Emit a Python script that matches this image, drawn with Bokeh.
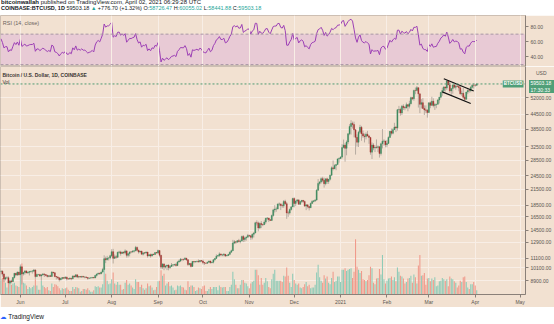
import numpy as np
import pandas as pd
from bokeh.plotting import figure
from bokeh.models import (Range1d, LinearScale, FixedTicker, NumeralTickFormatter, Span,
                          BoxAnnotation, Label, Div)
from bokeh.layouts import column
from bokeh.embed import file_html
from bokeh.resources import INLINE

# ---------------- data (daily, COINBASE BTCUSD) ----------------
start_date = "2020-05-19"
origin_date = "2020-06-01"

warmup_close = [6640, 6800, 6740, 6870, 6780, 7340, 7200, 7370, 7290, 6870,
                6890, 6910, 6860, 6880, 6640, 7110, 7040, 7250, 7130, 6850,
                6860, 7130, 7490, 7510, 7540, 7700, 7790, 7760, 8780, 8620,
                8860, 8980, 8900, 8880, 9030, 9150, 9990, 9810, 9540, 8730,
                8570, 8820, 9310, 9790, 9320, 9380, 9680, 9730]

close = [
    # May 19-31
    9780, 9510, 9060, 9170, 9180, 8720, 8900, 8840, 9200, 9580, 9430, 9700, 9450,
    # Jun
    10200, 9520, 9660, 9800, 9620, 9670, 9750, 9780, 9780, 9890,
    9280, 9470, 9480, 9340, 9430, 9520, 9460, 9380, 9300, 9360,
    9290, 9690, 9630, 9290, 9250, 9170, 9010, 9120, 9190, 9140,
    # Jul
    9230, 9090, 9060, 9140, 9080, 9340, 9250, 9440, 9240, 9290,
    9240, 9300, 9240, 9250, 9190, 9130, 9150, 9170, 9210, 9160,
    9390, 9520, 9580, 9540, 9700, 9930, 11030, 10910, 11100, 11110, 11350,
    # Aug
    11800, 11070, 11230, 11190, 11740, 11770, 11600, 11760, 11680, 11890,
    11390, 11580, 11780, 11770, 11860, 11910, 12300, 11970, 11760, 11870,
    11520, 11680, 11650, 11760, 11330, 11460, 11320, 11530, 11480, 11710, 11660,
    # Sep
    11930, 11390, 10170, 10470, 10170, 10280, 10370, 10130, 10240, 10370,
    10400, 10440, 10330, 10680, 10790, 10960, 10950, 10940, 11090, 10920,
    10420, 10540, 10240, 10740, 10690, 10730, 10770, 10700, 10840, 10780,
    # Oct
    10620, 10570, 10550, 10670, 10790, 10600, 10670, 10920, 11060, 11300,
    11380, 11550, 11430, 11430, 11510, 11330, 11370, 11510, 11750, 11920,
    12820, 12990, 12940, 13130, 13030, 13070, 13650, 13280, 13460, 13560, 13800,
    # Nov
    13760, 13550, 13960, 14130, 15590, 15580, 14840, 15480, 15330, 15310,
    15700, 16290, 16330, 16070, 15960, 16720, 17660, 17800, 17820, 18680,
    18710, 18420, 18370, 19160, 18740, 17150, 17140, 17720, 18180, 19700,
    # Dec
    18790, 19230, 19450, 18650, 19150, 19360, 19170, 18320, 18540, 18250,
    18030, 18800, 19170, 19270, 19440, 21350, 22800, 23140, 23870, 23480,
    22740, 23820, 23240, 23730, 24690, 26490, 26280, 27080, 27370, 28880, 28990,
    # Jan 2021
    29400, 32200, 33000, 31990, 33990, 36820, 39470, 40670, 40240, 38240,
    35550, 33920, 37340, 39150, 36830, 36020, 35820, 36630, 36020, 35540,
    30830, 33010, 32090, 32290, 32260, 32500, 30430, 33420, 34270, 34320, 33110,
    # Feb
    33520, 35510, 37680, 36980, 38300, 39240, 38900, 46400, 46500, 45000,
    47980, 47400, 47220, 48730, 47950, 49170, 52150, 51600, 55910, 55890,
    57410, 54090, 48900, 49680, 47000, 46340, 46190, 45140,
    # Mar
    49600, 48440, 50350, 48380, 48760, 48880, 50970, 52390, 54890, 55860,
    57800, 57200, 61190, 58970, 55640, 56900, 58930, 57640, 58250, 58100,
    57360, 54090, 54340, 52300, 51300, 55050, 55840, 55780, 57630, 58780, 58740,
    # Apr
    58726.47, 59503.18]

high = [
    9890, 9840, 9570, 9270, 9310, 9300, 8980, 9010, 9230, 9610, 9610, 9740, 9700,
    10430, 10230, 9690, 9880, 9850, 9740, 9800, 9800, 9880, 9990,
    9950, 9560, 9500, 9490, 9520, 9590, 9560, 9490, 9450, 9390,
    9440, 9780, 9700, 9670, 9330, 9300, 9200, 9180, 9240, 9200,
    9300, 9270, 9130, 9190, 9140, 9370, 9360, 9470, 9450, 9310,
    9300, 9340, 9340, 9280, 9280, 9220, 9190, 9200, 9240, 9220,
    9420, 9540, 9640, 9640, 9730, 10110, 11400, 11250, 11340, 11170, 11450,
    12090, 12130, 11480, 11420, 11790, 11910, 11910, 11800, 11820, 12070,
    11940, 11630, 11800, 11860, 11970, 11940, 12480, 12400, 12030, 11900,
    11890, 11690, 11720, 11820, 11770, 11540, 11590, 11550, 11560, 11720, 11770,
    12050, 11960, 11460, 10560, 10570, 10350, 10400, 10430, 10360, 10580,
    10430, 10480, 10570, 10790, 10930, 11100, 11040, 11040, 11180, 11090,
    10990, 10580, 10560, 10780, 10760, 10760, 10800, 10950, 10860, 10850,
    10930, 10660, 10600, 10700, 10800, 10800, 10680, 10950, 11110, 11500,
    11430, 11730, 11560, 11550, 11640, 11540, 11400, 11530, 11820, 12030,
    13230, 13200, 13030, 13160, 13350, 13250, 13780, 13860, 13640, 13690, 14000,
    13900, 13830, 14060, 14250, 15750, 15970, 15780, 15660, 15860, 15460,
    15970, 16350, 16480, 16330, 16140, 16880, 17850, 18480, 18140, 18800,
    18970, 18750, 18760, 19420, 19480, 19030, 17460, 17900, 18340, 19860,
    19920, 19340, 19590, 19530, 19180, 19420, 19420, 19290, 18640, 18560,
    18290, 18950, 19400, 19350, 19570, 21550, 23770, 23280, 24170, 24300,
    24100, 23850, 24100, 23790, 24790, 26870, 28420, 27420, 27410, 28990, 29300,
    29600, 33300, 34800, 33600, 34500, 36940, 40380, 41950, 41400, 41350,
    38400, 36600, 37850, 40100, 39700, 37950, 36850, 37300, 37850, 36400,
    35600, 33850, 33600, 32950, 34850, 32920, 32550, 33750, 38500, 34900, 34350,
    34700, 35900, 37800, 38700, 38800, 40900, 39700, 46700, 48150, 47300,
    48600, 48900, 48100, 49700, 49000, 50600, 52600, 52500, 56300, 57500,
    58350, 57500, 54200, 51400, 51900, 48400, 48400, 46650,
    49800, 50200, 52600, 51800, 49450, 49200, 51450, 52400, 54900, 57400,
    58100, 58000, 61800, 61700, 60600, 56950, 58950, 60100, 59500, 59900,
    58600, 58400, 55800, 57200, 53250, 55100, 56600, 56550, 58400, 59400, 59800,
    59500, 60055.02]

low = [
    9470, 9280, 8820, 8940, 9090, 8700, 8630, 8700, 8820, 9110, 9330, 9340, 9380,
    9420, 8600, 9380, 9450, 9590, 9540, 9380, 9640, 9560, 9680,
    9080, 9250, 9390, 9260, 8920, 9380, 9250, 9300, 9210, 9220,
    9270, 9280, 9560, 9220, 9020, 9050, 8850, 8950, 9020, 9080,
    9090, 8940, 9040, 9050, 8960, 9060, 9200, 9230, 9150, 9130,
    9200, 9160, 9200, 9130, 9160, 9010, 9100, 9120, 9120, 9140,
    9150, 9280, 9450, 9460, 9500, 9650, 9930, 10570, 10860, 10840, 10960,
    11230, 10530, 11000, 11030, 11090, 11580, 11360, 11550, 11520, 11520,
    11150, 11170, 11280, 11630, 11690, 11700, 11850, 11840, 11580, 11700,
    11500, 11380, 11520, 11600, 11140, 11280, 11140, 11280, 11430, 11460, 11590,
    11530, 11180, 10000, 9990, 9870, 10040, 9880, 9860, 10000, 10220,
    10200, 10300, 10220, 10270, 10640, 10680, 10760, 10810, 10890, 10810,
    10300, 10360, 10140, 10200, 10550, 10640, 10630, 10640, 10650, 10690,
    10440, 10380, 10520, 10510, 10610, 10540, 10570, 10540, 10830, 11040,
    11280, 11230, 11300, 11290, 11280, 11220, 11300, 11340, 11420, 11690,
    11900, 12700, 12730, 12890, 12890, 12800, 13070, 12950, 12990, 13130, 13620,
    13590, 13230, 13290, 13530, 14100, 15200, 14360, 14720, 14820, 15090,
    15290, 15440, 15970, 15700, 15870, 15880, 16560, 17220, 17340, 17760,
    18320, 17630, 18010, 18000, 18580, 16200, 16510, 16880, 17550, 18180,
    18100, 18350, 18950, 18600, 18520, 18910, 18900, 18200, 17620, 17910,
    17570, 18000, 18730, 19000, 19060, 19300, 21230, 22350, 22780, 23070,
    21900, 22380, 22700, 22700, 23450, 24520, 25850, 26150, 25900, 27340, 27850,
    28800, 29000, 32000, 28130, 29900, 33300, 36300, 36500, 38720, 35550,
    30100, 32500, 32400, 36700, 34400, 35350, 33850, 34850, 35880, 33400,
    30070, 28850, 31400, 30850, 31900, 30850, 29250, 29850, 31950, 32850, 32300,
    32300, 33450, 35400, 36200, 36600, 38200, 37400, 37950, 45000, 43800,
    44100, 46300, 46150, 47000, 45700, 47000, 48900, 50900, 50600, 53900,
    55450, 47400, 44900, 47000, 46800, 44100, 45050, 43000,
    45100, 47100, 48100, 47500, 46300, 47100, 48900, 49300, 51850, 53100,
    54300, 55300, 56100, 58900, 54600, 53300, 54150, 57000, 56300, 57850,
    55450, 53700, 53050, 51700, 50400, 51300, 53950, 54700, 54900, 57000, 56900,
    57950, 58441.88]

volume_k = [
    22, 24, 28, 17, 10, 16, 19, 14, 16, 17, 13, 12, 11,
    30, 45, 17, 16, 13, 8, 11, 9, 11, 13,
    22, 13, 7, 7, 20, 13, 11, 9, 11, 6,
    5, 16, 11, 15, 14, 12, 9, 6, 9, 8,
    9, 10, 7, 5, 5, 11, 8, 11, 10, 9,
    4, 5, 8, 8, 7, 9, 6, 4, 4, 6,
    12, 11, 12, 10, 10, 15, 38, 30, 20, 15, 16,
    22, 32, 16, 14, 18, 14, 14, 7, 8, 17,
    21, 14, 16, 13, 10, 8, 22, 18, 18, 11,
    14, 9, 7, 9, 16, 12, 13, 10, 6, 7, 11,
    19, 20, 35, 27, 30, 13, 16, 18, 12, 13,
    10, 6, 7, 13, 12, 13, 11, 10, 7, 6,
    19, 11, 13, 13, 11, 5, 6, 10, 9, 8,
    12, 13, 5, 5, 8, 11, 8, 11, 11, 11,
    6, 13, 11, 10, 11, 11, 5, 5, 11, 14,
    33, 22, 14, 9, 9, 14, 21, 21, 17, 16, 12,
    9, 16, 18, 20, 36, 36, 28, 14, 24, 14,
    17, 24, 19, 11, 9, 22, 30, 36, 20, 20,
    20, 20, 18, 27, 26, 39, 27, 17, 11, 30,
    21, 16, 14, 16, 10, 9, 11, 15, 18, 12,
    14, 9, 10, 10, 14, 32, 43, 25, 20, 17,
    28, 23, 26, 17, 15, 24, 33, 18, 20, 26, 26,
    18, 36, 36, 38, 34, 36, 37, 38, 24, 33,
    80, 40, 36, 31, 34, 22, 21, 19, 21, 28,
    40, 38, 17, 15, 23, 24, 37, 29, 57, 22, 16,
    20, 23, 24, 26, 21, 25, 19, 39, 33, 27,
    26, 23, 16, 18, 23, 24, 27, 17, 29, 25,
    16, 42, 57, 27, 28, 31, 14, 23,
    24, 19, 23, 21, 25, 12, 13, 19, 20, 24,
    22, 20, 22, 12, 26, 23, 22, 19, 17, 10,
    13, 20, 18, 25, 26, 18, 10, 8, 15, 15, 18,
    13, 6]

month_ticks = ["2020-06-01", "2020-07-01", "2020-08-01", "2020-09-01", "2020-10-01",
               "2020-11-01", "2020-12-01", "2021-01-01", "2021-02-01", "2021-03-01",
               "2021-04-01", "2021-05-01"]
month_labels = ["Jun", "Jul", "Aug", "Sep", "Oct", "Nov", "Dec", "2021", "Feb", "Mar", "Apr", "May"]
price_ticks = [8900, 10100, 11100, 12900, 14500, 16500, 18500, 21500, 24500, 28500,
               32500, 38500, 44500, 52000]
rsi_ticks = [40, 60, 80]

channel_upper_dates = ["2021-03-11", "2021-03-31"]
channel_upper_prices = [62600, 55600]
channel_lower_dates = ["2021-03-10", "2021-03-29"]
channel_lower_prices = [55100, 49300]

last_price = 59503.18

# ---------------- derived ----------------
close = np.array(close, dtype=float)
high = np.array(high, dtype=float)
low = np.array(low, dtype=float)
vol = np.array(volume_k, dtype=float)
n = len(close)
origin = pd.Timestamp(origin_date)
dates = pd.date_range(start_date, periods=n, freq="D")
x = np.array((dates - origin).days, dtype=float)
opn = np.concatenate([[warmup_close[-1]], close[:-1]])
is_up = close >= opn

def day(s):
    return float((pd.Timestamp(s) - origin).days)

# RSI(14) (Wilder) from the closes
allc = np.concatenate([np.array(warmup_close, float), close])
dif = np.diff(allc)
g = np.clip(dif, 0, None)
l = np.clip(-dif, 0, None)
ag = np.full(len(dif), np.nan)
al = np.full(len(dif), np.nan)
ag[13] = g[:14].mean()
al[13] = l[:14].mean()
for i in range(14, len(dif)):
    ag[i] = (ag[i - 1] * 13 + g[i]) / 14
    al[i] = (al[i - 1] * 13 + l[i]) / 14
rsi_all = 100 - 100 / (1 + ag / al)
rsi = rsi_all[-n:]

# ---------------- style ----------------
BG = "#f2e1d1"
GRID = "#f8eee6"
UP = "#3b8a5e"
DOWN = "#a3322e"
VUP = "#8fcbb7"
VDOWN = "#f09a8c"
WICK = "#a89e96"
AXC = "#8a8079"
TXT = "#5a5550"
GREEN_TAG = "#4f9f78"
FONT = "Liberation Sans"

xr = Range1d(-13.3, 337.6)
tick_days = [int(day(t)) for t in month_ticks]

# ---------------- RSI panel ----------------
r = figure(width=554, height=51, x_range=xr, y_range=Range1d(27.5, 94.5),
           x_axis_location=None, y_axis_location="right",
           output_backend="svg", toolbar_location=None,
           min_border_left=0, min_border_right=27, min_border_top=0, min_border_bottom=0,
           background_fill_color=BG, border_fill_color=BG)
r.outline_line_color = "#cdbfb3"
band = BoxAnnotation(bottom=30, top=70, fill_color="#e8cad5", fill_alpha=1, line_color=None,
                     level="underlay")
r.add_layout(band)
r.xgrid.ticker = FixedTicker(ticks=tick_days)
r.xgrid.grid_line_color = GRID
r.xgrid.level = "glyph"
r.ygrid.visible = False
for lv in (70, 30):
    r.add_layout(Span(location=lv, dimension="width", line_color="#a896a6",
                      line_dash="3 2", line_width=1))
r.line(x, rsi, line_color="#9c3fb5", line_width=1)
r.yaxis.ticker = FixedTicker(ticks=rsi_ticks)
r.yaxis.formatter = NumeralTickFormatter(format="0.00")
r.yaxis.minor_tick_line_color = None
r.yaxis.major_tick_out = 3
r.yaxis.major_tick_in = 0
r.yaxis.major_label_standoff = 2
r.yaxis.axis_line_color = AXC
r.yaxis.major_tick_line_color = AXC
r.yaxis.major_label_text_font_size = "5px"
r.yaxis.major_label_text_color = TXT
r.yaxis.major_label_text_font = FONT
r.add_layout(Label(x=xr.start + 1.5, y=84, text="RSI (14, close)", text_font_size="5.5px",
                   text_color="#6a625c", text_baseline="middle", text_font=FONT))

# ---------------- main panel ----------------
ylo, yhi = 7809, 70415
p = figure(width=554, height=241, x_range=xr, y_range=Range1d(ylo, yhi),
           y_axis_type="log", y_axis_location="right",
           output_backend="svg", toolbar_location=None,
           min_border_left=0, min_border_right=27, min_border_top=0, min_border_bottom=11,
           background_fill_color=BG, border_fill_color=BG)
p.outline_line_color = "#cdbfb3"
p.extra_y_ranges = {"vol": Range1d(0, 330)}
p.extra_y_scales = {"vol": LinearScale()}

p.xaxis.ticker = FixedTicker(ticks=tick_days)
p.xaxis.major_label_overrides = {t: lab for t, lab in zip(tick_days, month_labels)}
p.xgrid.ticker = FixedTicker(ticks=tick_days)
p.yaxis.ticker = FixedTicker(ticks=price_ticks)
p.ygrid.ticker = FixedTicker(ticks=price_ticks)
p.yaxis.formatter = NumeralTickFormatter(format="0.00")
for ax in (p.xaxis, p.yaxis):
    ax.minor_tick_line_color = None
    ax.major_tick_out = 3
    ax.major_tick_in = 0
    ax.major_label_standoff = 2
    ax.axis_line_color = AXC
    ax.major_tick_line_color = AXC
    ax.major_label_text_font_size = "5px"
    ax.major_label_text_color = TXT
    ax.major_label_text_font = FONT
p.xaxis.major_label_standoff = 1
p.xgrid.grid_line_color = GRID
p.ygrid.grid_line_color = GRID

vcol = [VUP if u else VDOWN for u in is_up]
p.vbar(x=x, width=0.72, top=vol, bottom=0, y_range_name="vol",
       fill_color=vcol, line_color=None)

p.add_layout(Span(location=last_price, dimension="width", line_color="#4f9a72",
                  line_dash="2 2", line_width=1))

p.segment(x0=x, y0=high, x1=x, y1=low, line_color=WICK, line_width=0.8)
ccol = [UP if u else DOWN for u in is_up]
p.vbar(x=x, width=0.7, top=np.maximum(opn, close), bottom=np.minimum(opn, close),
       fill_color=ccol, line_color=ccol, line_width=0.4)

p.line([day(d) for d in channel_upper_dates], channel_upper_prices, line_color="#111111", line_width=1.2)
p.line([day(d) for d in channel_lower_dates], channel_lower_prices, line_color="#111111", line_width=1.2)

# helper: price at a given pixel offset from top of the main frame (230 px tall)
def price_at(px):
    lt, lb = np.log10(yhi), np.log10(ylo)
    return 10 ** (lt - (px / 230.0) * (lt - lb))

def day_at(px):
    return xr.start + px / 527.0 * (xr.end - xr.start)

p.add_layout(Label(x=day_at(2), y=price_at(9), text="Bitcoin / U.S. Dollar, 1D, COINBASE",
                   text_font_size="5px", text_color="#3a3632", text_baseline="middle",
                   text_font=FONT, text_font_style="bold"))
p.add_layout(Label(x=day_at(2), y=price_at(16), text="Vol", text_font_size="5px",
                   text_color="#3a3632", text_baseline="middle", text_font=FONT))
p.add_layout(Label(x=day_at(525), y=last_price, text="BTCUSD", text_font_size="4.5px",
                   text_color="white", text_align="right", text_baseline="middle",
                   background_fill_color=GREEN_TAG, padding=1, text_font=FONT,
                   text_font_style="bold"))

# ---------------- header / footer ----------------
T = "#26a69a"
price_tag = (
    f"<div style='position:absolute;left:529px;top:80px;width:25px;height:13px;z-index:20;"
    f"background:{GREEN_TAG};color:white;font-family:Liberation Sans;font-size:5px;"
    "line-height:6.5px;padding-left:1.5px;box-sizing:border-box;white-space:nowrap;'>"
    "59503.18<br>17:30:33</div>"
    "<div style='position:absolute;left:536px;top:71px;z-index:20;color:#5a5550;"
    "font-family:Liberation Sans;font-size:5px;line-height:5px;'>USD</div>")
header = Div(text=(
    "<div style='font-family:Liberation Sans;color:#131722;white-space:nowrap;"
    "width:554px;height:15px;overflow:hidden;background:white;'>"
    "<div style='font-size:6px;line-height:6px;margin-top:-1px;padding-left:1px;'><b>bitcoinwallah</b> published on TradingView.com, April 02, 2021 06:29:28 UTC</div>"
    f"<div style='font-size:5.5px;line-height:7px;padding-left:1px;'><b>COINBASE:BTCUSD, 1D</b> 59503.18 <span style='color:{T}'>&#9650;</span> +776.70 (+1.32%) "
    f"O:<span style='color:{T}'>58726.47</span> H:<span style='color:{T}'>60055.02</span> "
    f"L:<span style='color:{T}'>58441.88</span> C:<span style='color:{T}'>59503.18</span></div>"
    "</div>" + price_tag),
    width=554, height=15, margin=0,
    styles={"background-color": "white", "overflow": "visible", "z-index": "20"})

footer = Div(text=(
    "<div style='height:14px;background:white;font-family:Liberation Sans;font-size:6.5px;"
    "line-height:14px;color:#131722;white-space:nowrap;'>"
    "<span style='color:#2962ff;font-family:DejaVu Sans;'>&#9729;</span> TradingView</div>"
    "<div style='height:3px;background:#2a2e39;'></div>"),
    width=554, height=17, margin=0, styles={"overflow": "hidden", "background-color": "white"})

layout = column(header, r, p, footer, spacing=0)
open("out.html", "w").write(file_html(layout, INLINE))
